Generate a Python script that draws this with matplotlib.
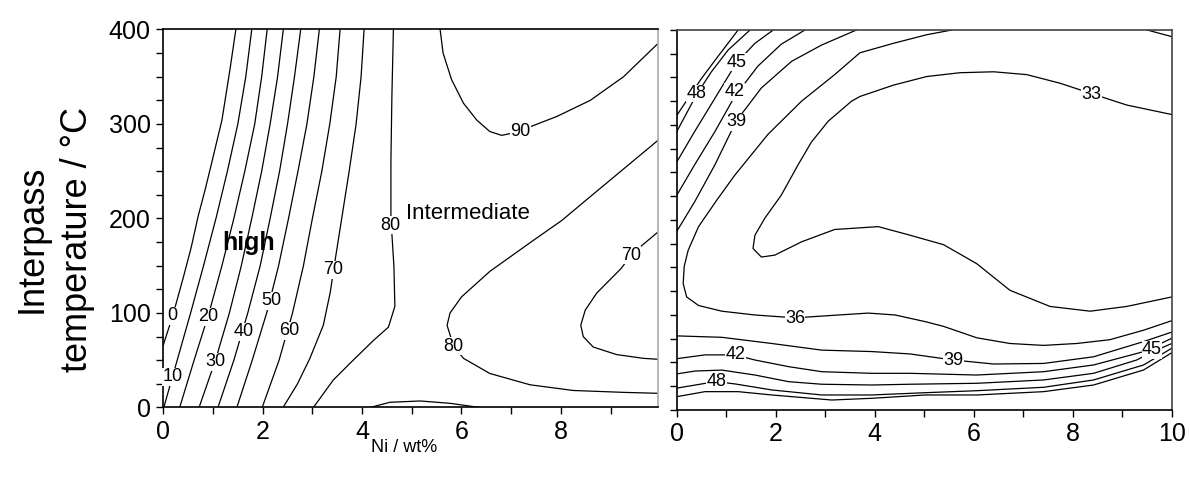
import matplotlib
matplotlib.use("Agg")
import matplotlib.pyplot as plt
from matplotlib.ticker import MultipleLocator

plt.rcParams["font.family"] = ["Liberation Sans", "DejaVu Sans"]

# ---- left panel: contour lines (Ni wt%, interpass T degC)
t_grid = [0, 50, 100, 150, 200, 250, 300, 350, 400]
ni_0 = [0, 0.19, 0.40, 0.56, 0.70, 0.84, 0.97, 1.18, 1.34, 1.46]
t_0 = [66, 97, 137, 169, 202, 230, 258, 304, 357, 400]
ni_10 = [0.01, 0.28, 0.55, 0.81, 1.06, 1.29, 1.50, 1.66, 1.78]
ni_20 = [0.33, 0.62, 0.92, 1.18, 1.42, 1.64, 1.84, 1.98, 2.09]
ni_30 = [0.72, 1.05, 1.33, 1.57, 1.78, 1.98, 2.15, 2.30, 2.415]
ni_40 = [1.10, 1.42, 1.70, 1.95, 2.15, 2.34, 2.50, 2.64, 2.765]
ni_50 = [1.48, 1.79, 2.08, 2.32, 2.52, 2.71, 2.89, 3.03, 3.14]
ni_60 = [1.99, 2.33, 2.60, 2.82, 3.00, 3.19, 3.35, 3.48, 3.557]
ni_70 = [2.41, 2.70, 2.95, 3.22, 3.36, 3.44, 3.59, 3.74, 3.88, 3.98, 4.04]
t_70 = [0, 25, 52, 87, 122, 150, 200, 250, 300, 350, 400]
ni_80 = [3.02, 3.42, 3.82, 4.23, 4.53, 4.66, 4.64, 4.58, 4.58, 4.60, 4.63]
t_80 = [0, 29, 50, 71, 85, 107, 150, 200, 260, 330, 400]
ni_90 = [5.57, 5.63, 5.80, 6.04, 6.31, 6.57, 6.81, 7.18, 7.38, 7.92, 8.59, 9.26, 9.93, 9.96]
t_90 = [400, 375, 347, 322, 304, 292, 288, 292, 297, 308, 325, 350, 384, 385]
ni_80b = [9.96, 8.52, 8.02, 7.45, 6.57, 6.00, 5.77, 5.71, 5.84, 6.04, 6.57, 7.38, 8.25, 9.26, 9.96]
t_80b = [283, 220, 198, 177, 144, 117, 100, 87, 65, 52, 36, 24, 18, 16, 15]
ni_70b = [9.96, 9.53, 9.41, 9.21, 8.72, 8.49, 8.40, 8.45, 8.65, 9.12, 9.66, 9.96]
t_70b = [186, 167, 161, 147, 121, 103, 87, 75, 64, 56, 52, 51]
ni_bump = [4.16, 4.56, 5.17, 5.77, 6.37]
t_bump = [0, 5.5, 6.9, 4.4, 0]

left_lab = ["0", "10", "20", "30", "40", "50", "60", "70", "80", "90", "80", "70"]
left_lab_x = [0.19, 0.19, 0.905, 1.04, 1.61, 2.17, 2.535, 3.42, 4.56, 7.18, 5.835, 9.41]
left_lab_y = [97, 32.6, 96, 48.5, 80.2, 112.7, 81, 145.5, 193, 292, 65, 161]

# ---- right panel
r51_x = [0, 0.23, 0.50, 0.83, 1.24]
r51_y = [310, 328, 349, 372, 400]
r48_x = [0, 0.40, 0.70, 1.04, 1.48]
r48_y = [293, 332, 356, 379, 400]
r45_x = [0, 0.36, 0.77, 1.20, 1.58, 1.95]
r45_y = [261, 293, 328, 365, 386, 400]
r42_x = [0, 0.36, 0.77, 1.17, 1.64, 2.11, 2.59]
r42_y = [226, 258, 293, 330, 362, 385, 400]
r39_x = [0, 0.36, 0.77, 1.20, 1.71, 2.32, 2.92, 3.63]
r39_y = [188, 219, 258, 304, 339, 367, 384, 400]
r36_x = [5.56, 5.05, 4.38, 3.70, 3.19, 2.52, 1.84, 1.17, 0.81, 0.44, 0.23, 0.15, 0.13,
         0.20, 0.44, 0.91, 1.58, 2.39, 3.27, 3.87, 4.41, 5.02, 5.39, 6.06, 6.73, 7.41,
         8.08, 8.75, 9.43, 10.0]
r36_y = [400, 395, 386, 376, 353, 325, 290, 247, 221, 193, 168, 151, 133,
         119, 110, 104, 100, 97, 100, 102, 100, 93, 88, 76, 70, 68,
         70, 74, 84, 94]
r33_x = [10.0, 9.09, 8.38, 7.74, 7.07, 6.40, 5.72, 5.05, 4.38, 3.70, 3.53, 3.06, 2.72,
         2.45, 2.11, 1.78, 1.58, 1.54, 1.71, 1.98, 2.52, 3.19, 4.07, 4.71, 5.39, 6.06,
         6.73, 7.54, 8.35, 9.09, 10.0]
r33_y = [311, 321, 333, 344, 353, 356, 355, 351, 342, 330, 325, 304, 282,
         258, 226, 202, 184, 170, 161, 163, 177, 190, 193, 184, 174, 154,
         126, 109, 104, 109, 119]
rc_x = [9.50, 10.0]
rc_y = [400, 393]
b39_x = [0, 0.91, 1.92, 2.93, 3.94, 4.71, 5.59, 6.40, 7.41, 8.42, 9.43, 10.0]
b39_y = [78, 76.5, 70, 63, 61.5, 59, 52.6, 48.4, 49, 56, 72, 82]
b42_x = [0, 0.57, 1.18, 1.58, 2.26, 2.93, 3.94, 4.71, 6.06, 7.41, 8.42, 9.43, 10.0]
b42_y = [54, 58, 58, 52.6, 45.6, 40.3, 38.6, 38.6, 36.8, 40.3, 47.4, 61.4, 75.5]
b45_x = [0, 0.37, 0.91, 1.58, 2.26, 2.93, 3.94, 4.71, 6.06, 7.41, 8.42, 9.29, 9.60, 10.0]
b45_y = [38, 41, 42, 36.8, 29.8, 27.1, 26.3, 27.1, 28.1, 31.6, 38.6, 52.6, 61, 70]
b48_x = [0, 0.57, 0.81, 1.18, 1.92, 2.93, 3.94, 5.02, 6.06, 7.41, 8.42, 9.43, 10.0]
b48_y = [23, 28, 29.8, 27.4, 21.1, 15.8, 15.8, 18.2, 20.3, 23.9, 31.6, 47.4, 65]
b51_x = [0, 0.57, 1.24, 1.92, 3.13, 3.94, 5.02, 6.06, 7.41, 8.42, 9.43, 10.0]
b51_y = [14, 19.3, 19.3, 15.8, 10.5, 12.3, 15.8, 15.8, 19.3, 26.3, 42.1, 60.3]

right_lab = ["48", "45", "42", "39", "36", "33", "42", "48", "39", "45"]
right_lab_x = [0.40, 1.20, 1.17, 1.20, 2.39, 8.38, 1.18, 0.81, 5.59, 9.60]
right_lab_y = [333, 366, 335, 303.5, 96.5, 332.6, 57.9, 29.8, 52.6, 63.2]

fig = plt.figure(figsize=(11.9, 4.82), dpi=100)
ax1 = fig.add_axes([0.1372, 0.1546, 0.416, 0.7842])
ax2 = fig.add_axes([0.5687, 0.1494, 0.416, 0.7884])

lw = 0.9
left_lines = [(ni_0, t_0), (ni_10, t_grid), (ni_20, t_grid), (ni_30, t_grid),
              (ni_40, t_grid), (ni_50, t_grid), (ni_60, t_grid), (ni_70, t_70),
              (ni_80, t_80), (ni_90, t_90), (ni_80b, t_80b), (ni_70b, t_70b),
              (ni_bump, t_bump)]
for x, y in left_lines:
    ax1.plot(x, y, color="black", lw=lw, solid_joinstyle="round")

right_lines = [(r51_x, r51_y), (r48_x, r48_y), (r45_x, r45_y), (r42_x, r42_y),
               (r39_x, r39_y), (r36_x, r36_y), (r33_x, r33_y), (rc_x, rc_y),
               (b39_x, b39_y), (b42_x, b42_y), (b45_x, b45_y), (b48_x, b48_y),
               (b51_x, b51_y)]
for x, y in right_lines:
    ax2.plot(x, y, color="black", lw=lw, solid_joinstyle="round")

box = dict(facecolor="white", edgecolor="none", pad=0.3)
for s, x, y in zip(left_lab, left_lab_x, left_lab_y):
    ax1.text(x, y, s, fontsize=13, ha="center", va="center", bbox=box, zorder=5)
for s, x, y in zip(right_lab, right_lab_x, right_lab_y):
    ax2.text(x, y, s, fontsize=13, ha="center", va="center", bbox=box, zorder=5)

ax1.text(1.71, 174, "high", fontsize=18, fontweight="bold", ha="center", va="center")
ax1.text(6.13, 205, "Intermediate", fontsize=16, ha="center", va="center", bbox=box, zorder=5)

for ax, xmax in ((ax1, 9.96), (ax2, 10.0)):
    ax.set_xlim(0, xmax)
    ax.set_ylim(0, 400)
    ax.xaxis.set_major_locator(MultipleLocator(2))
    ax.xaxis.set_minor_locator(MultipleLocator(1))
    ax.yaxis.set_major_locator(MultipleLocator(100))
    ax.yaxis.set_minor_locator(MultipleLocator(25))
    ax.tick_params(which="both", direction="out", length=5, width=1,
                   labelsize=18, pad=4, top=False, right=False)
    for sp in ax.spines.values():
        sp.set_linewidth(1.2)

ax2.tick_params(labelleft=False)
ax1.spines["right"].set_color("#aaaaaa")
ax2.spines["top"].set_color("#444444")
ax2.spines["right"].set_color("#444444")

fig.text(0.340, 0.072, "Ni / wt%", fontsize=13, ha="center", va="center")
fig.text(0.046, 0.504, "Interpass\ntemperature / \u00b0C", rotation=90, fontsize=26,
         ha="center", va="center", linespacing=1.36, multialignment="center")

fig.savefig("out.png", dpi=100)
